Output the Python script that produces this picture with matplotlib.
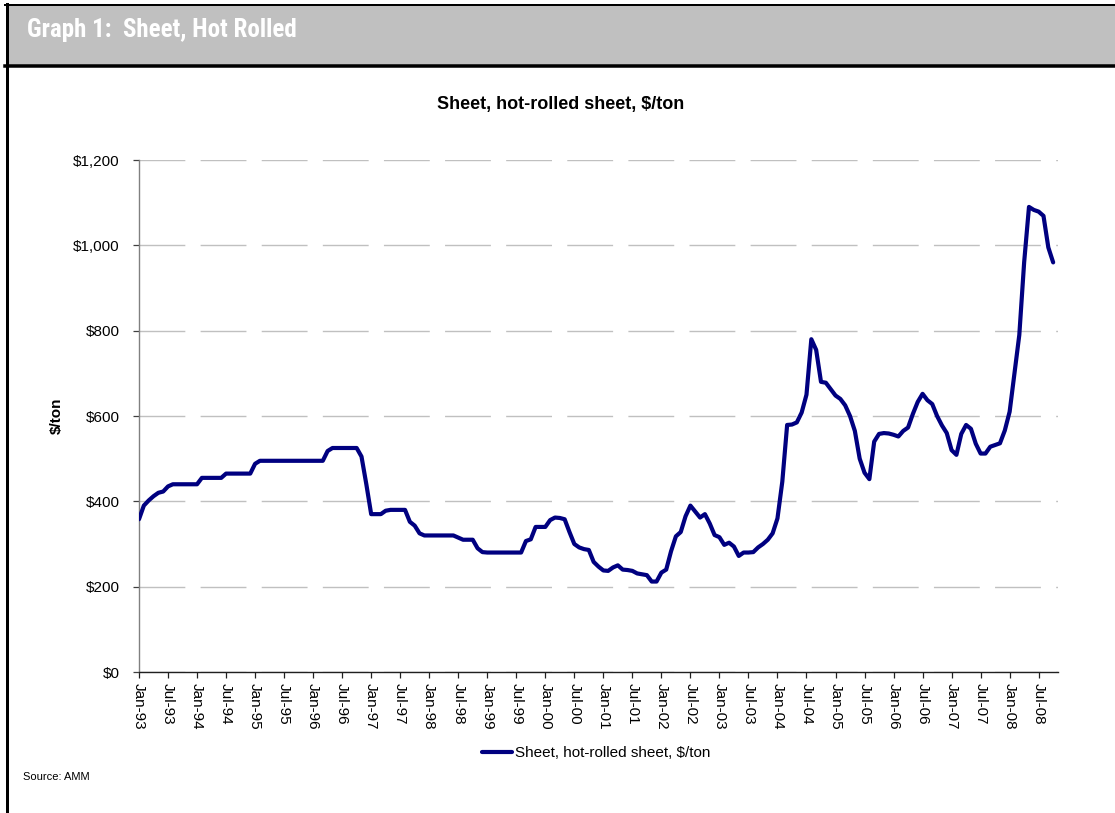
import matplotlib
matplotlib.use('Agg')
import matplotlib.pyplot as plt
from matplotlib import font_manager as fm
from matplotlib.lines import Line2D
from matplotlib.patches import Rectangle
import numpy as np

# ---------------- data ----------------
series_name = "Sheet, hot-rolled sheet, $/ton"
chart_title = "Sheet, hot-rolled sheet, $/ton"
header_title = "Graph 1:  Sheet, Hot Rolled"
y_label = "$/ton"
source_note = "Source: AMM"

prices_1993 = [358, 390, 402, 412, 420, 423, 435, 440, 440, 440, 440, 440]
prices_1994 = [440, 455, 455, 455, 455, 455, 465, 465, 465, 465, 465, 465]
prices_1995 = [488, 495, 495, 495, 495, 495, 495, 495, 495, 495, 495, 495]
prices_1996 = [495, 495, 495, 518, 525, 525, 525, 525, 525, 525, 505, 440]
prices_1997 = [370, 370, 370, 378, 380, 380, 380, 380, 352, 343, 325, 320]
prices_1998 = [320, 320, 320, 320, 320, 320, 315, 310, 310, 310, 290, 281]
prices_1999 = [280, 280, 280, 280, 280, 280, 280, 280, 307, 311, 340, 340]
prices_2000 = [340, 356, 362, 361, 358, 328, 300, 292, 288, 286, 258, 247]
prices_2001 = [238, 237, 245, 250, 240, 239, 237, 231, 229, 227, 212, 212]
prices_2002 = [233, 240, 283, 318, 328, 365, 390, 376, 362, 370, 348, 321]
prices_2003 = [316, 298, 303, 294, 272, 280, 280, 281, 292, 300, 310, 325]
prices_2004 = [360, 446, 579, 580, 585, 608, 650, 780, 755, 680, 678, 663]
prices_2005 = [648, 640, 625, 600, 565, 500, 467, 452, 540, 558, 560, 559]
prices_2006 = [556, 552, 565, 573, 605, 633, 652, 637, 628, 600, 578, 560]
prices_2007 = [520, 509, 558, 579, 570, 535, 512, 512, 528, 532, 536, 566]
prices_2008 = [610, 700, 790, 960, 1090, 1083, 1079, 1069, 995, 960]

years = list(range(1993, 2009))
x_tick_labels = [f"{m}-{y % 100:02d}" for y in years for m in ("Jan", "Jul")]
y_tick_values = [0, 200, 400, 600, 800, 1000, 1200]
y_tick_labels = ["$0", "$200", "$400", "$600", "$800", "$1,000", "$1,200"]

prices = (prices_1993 + prices_1994 + prices_1995 + prices_1996 + prices_1997 +
          prices_1998 + prices_1999 + prices_2000 + prices_2001 + prices_2002 +
          prices_2003 + prices_2004 + prices_2005 + prices_2006 + prices_2007 +
          prices_2008)

# ---------------- style ----------------
plt.rcParams['lines.scale_dashes'] = False
names = {f.name for f in fm.fontManager.ttflist}
base = 'Liberation Sans' if 'Liberation Sans' in names else 'DejaVu Sans'
plt.rcParams['font.family'] = [base, 'DejaVu Sans']


def _weight_num(w):
    if isinstance(w, (int, float)):
        return w
    table = {'bold': 700, 'heavy': 800, 'black': 900, 'semibold': 600,
             'demibold': 600, 'extra bold': 800, 'ultrabold': 800}
    return table.get(str(w).lower(), 400)


header_props = None
cands = []
for f in fm.fontManager.ttflist:
    nm = f.name.lower()
    cond = ('condensed' in str(f.stretch).lower() or 'narrow' in nm
            or 'condensed' in nm or 'condensed' in f.fname.lower()
            or 'narrow' in f.fname.lower())
    if cond and _weight_num(f.weight) >= 600 and f.style == 'normal':
        cands.append(f)
if cands:
    pref = sorted(cands, key=lambda f: (0 if 'liberation' in f.name.lower() else
                                        1 if 'roboto' in f.name.lower() else 2))
    header_props = fm.FontProperties(fname=pref[0].fname, size=18)
else:
    header_props = fm.FontProperties(family=[base, 'DejaVu Sans'], weight='bold',
                                     size=16.5)

W, H = 1115, 813
fig = plt.figure(figsize=(W / 100, H / 100), dpi=100)


def fx(px):
    return px / W


def fy(py):
    return 1 - py / H


# header band and frame
fig.patches.append(Rectangle((fx(7), fy(65)), 1 - fx(7), fy(6) - fy(65),
                             transform=fig.transFigure, facecolor='#C0C0C0',
                             edgecolor='none', zorder=0))
fig.lines.append(Line2D([fx(5), 1], [fy(5), fy(5)], transform=fig.transFigure,
                        color='black', lw=2 * 0.72))
fig.lines.append(Line2D([fx(5), 1], [fy(66), fy(66)], transform=fig.transFigure,
                        color='black', lw=3.5 * 0.72))
fig.lines.append(Line2D([fx(6.5), fx(6.5)], [fy(4.5), 0], transform=fig.transFigure,
                        color='black', lw=3 * 0.72))
fig.text(fx(27), fy(29.5), header_title, color='white', fontproperties=header_props,
         va='center', ha='left')

# axes
ax = fig.add_axes([fx(139), fy(672), fx(1058) - fx(139), fy(160) - fy(672)])
x = np.arange(len(prices))
ax.plot(x, prices, color='#000080', lw=3.0, solid_joinstyle='round',
        solid_capstyle='round', label=series_name, zorder=3)
ax.set_xlim(0, 190)
ax.set_ylim(0, 1200)
ax.set_xticks(np.arange(0, 6 * len(x_tick_labels), 6))
ax.set_xticklabels(x_tick_labels)
ax.set_yticks(y_tick_values)
ax.set_yticklabels(y_tick_labels)
ax.yaxis.grid(True, color='#C0C0C0', lw=1.0, linestyle=(0, (33, 11)))
ax.set_axisbelow(True)
for s in ('top', 'right'):
    ax.spines[s].set_visible(False)
ax.spines['left'].set_color('#808080')
ax.spines['left'].set_linewidth(1.0)
ax.spines['bottom'].set_color('#202020')
ax.spines['bottom'].set_linewidth(1.0)
ax.tick_params(axis='x', direction='out', length=4, width=0.9, color='#202020',
               labelsize=11, pad=4)
ax.tick_params(axis='y', direction='out', length=4, width=0.9, color='#404040',
               labelsize=11, pad=10)
plt.setp(ax.get_xticklabels(), rotation=-90, ha='center', va='top')

fig.text(fx(57), fy(416), y_label, rotation=90, fontweight='bold', fontsize=11,
         ha='center', va='center')
fig.text(fx(561), fy(104), chart_title, fontweight='bold', fontsize=13,
         ha='center', va='center')

handles, labels = ax.get_legend_handles_labels()
fig.legend(handles, labels, loc='center', bbox_to_anchor=(fx(596), fy(753)),
           frameon=False, fontsize=11, handlelength=2.0, handletextpad=0.15,
           borderpad=0.2)

fig.text(fx(23), fy(777), source_note, fontsize=8, ha='left', va='center')

fig.savefig('out.png', dpi=100)
